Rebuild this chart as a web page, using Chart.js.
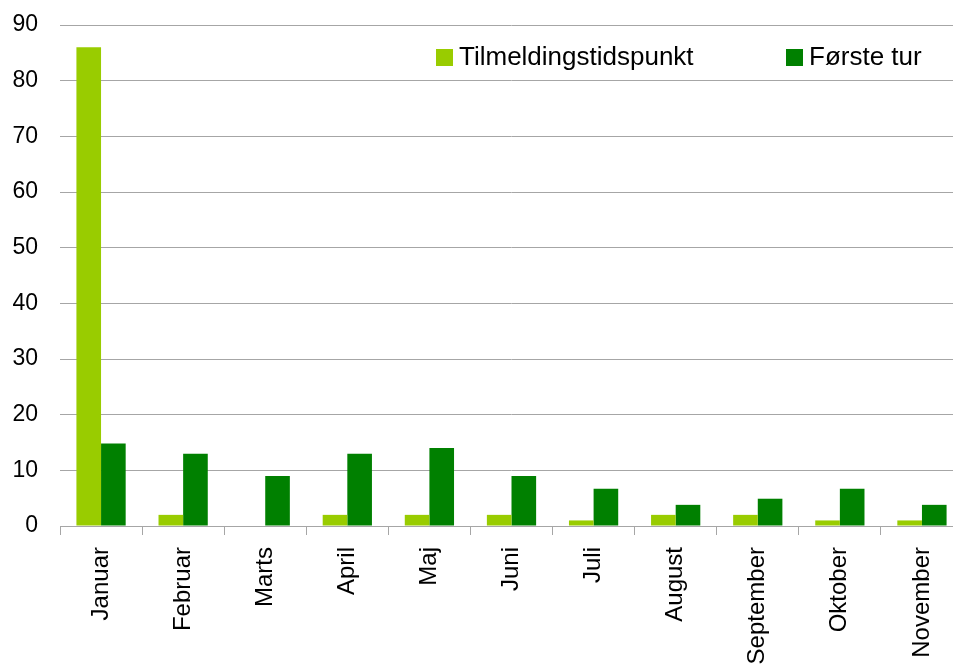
<!DOCTYPE html>
<html>
<head>
<meta charset="utf-8">
<script src="https://cdn.jsdelivr.net/npm/chart.js@4/dist/chart.umd.min.js"></script>
<style>
  html, body { margin: 0; padding: 0; overflow: hidden; background: #fff; }
</style>
</head>
<body>
<canvas id="tilmeldingChart" width="963" height="700"></canvas>
<script>
// Måneder og antal
const months = ["Januar", "Februar", "Marts", "April", "Maj", "Juni", "Juli",
                "August", "September", "Oktober", "November"];
const tilmelding = [86, 2, 0, 2, 2, 2, 1, 2, 2, 1, 1];
const foersteTur = [14.8, 13, 9, 13, 14, 9, 6.7, 3.8, 4.9, 6.7, 3.8];
const yTicks = [0, 10, 20, 30, 40, 50, 60, 70, 80, 90];

const lightGreen = "#99cc00";
const darkGreen = "#008000";
const fontFamily = "'Liberation Sans', Arial, sans-serif";

// Legend tegnet oppe til højre inde i plottet
const legendInside = {
    id: "legendInside",
    afterDraw(chart) {
        const c = chart.ctx;
        const spots = [436, 786];
        c.save();
        c.font = "26px " + fontFamily;
        c.textBaseline = "middle";
        chart.data.datasets.forEach((ds, i) => {
            const x = spots[i];
            c.fillStyle = ds.backgroundColor;
            c.fillRect(x, 49, 17, 17);
            c.fillStyle = "#000";
            c.fillText(ds.label, x + 23, 58);
        });
        c.restore();
    }
};

const ctx = document.getElementById("tilmeldingChart").getContext("2d");
new Chart(ctx, {
    type: "bar",
    data: {
        labels: months,
        datasets: [
            {
                label: "Tilmeldingstidspunkt",
                data: tilmelding,
                backgroundColor: lightGreen,
                categoryPercentage: 0.6,
                barPercentage: 1.0
            },
            {
                label: "Første tur",
                data: foersteTur,
                backgroundColor: darkGreen,
                categoryPercentage: 0.6,
                barPercentage: 1.0
            }
        ]
    },
    options: {
        responsive: false,
        animation: false,
        layout: { padding: { top: 25, left: 0, right: 0, bottom: 0 } },
        plugins: {
            legend: { display: false },
            tooltip: { enabled: false }
        },
        scales: {
            x: {
                afterFit(scale) {
                    scale.height = 174;
                    scale.paddingLeft = 0;
                    scale.paddingRight = 0;
                },
                grid: {
                    offset: true,
                    drawOnChartArea: false,
                    drawTicks: true,
                    tickLength: 9,
                    color: "#a6a6a6"
                },
                border: { display: true, color: "#a6a6a6" },
                ticks: {
                    minRotation: 90,
                    maxRotation: 90,
                    autoSkip: false,
                    padding: 12,
                    color: "#000",
                    font: { family: fontFamily, size: 24 }
                }
            },
            y: {
                min: 0,
                max: 90,
                afterFit(scale) {
                    scale.width = 60;
                    scale.paddingTop = 0;
                    scale.paddingBottom = 0;
                },
                afterBuildTicks(scale) { scale.ticks = yTicks.map(v => ({ value: v })); },
                grid: { drawTicks: false, color: "#a6a6a6" },
                border: { display: false },
                ticks: {
                    padding: 22,
                    color: "#000",
                    font: { family: fontFamily, size: 23 }
                }
            }
        }
    },
    plugins: [legendInside]
});
</script>
</body>
</html>
